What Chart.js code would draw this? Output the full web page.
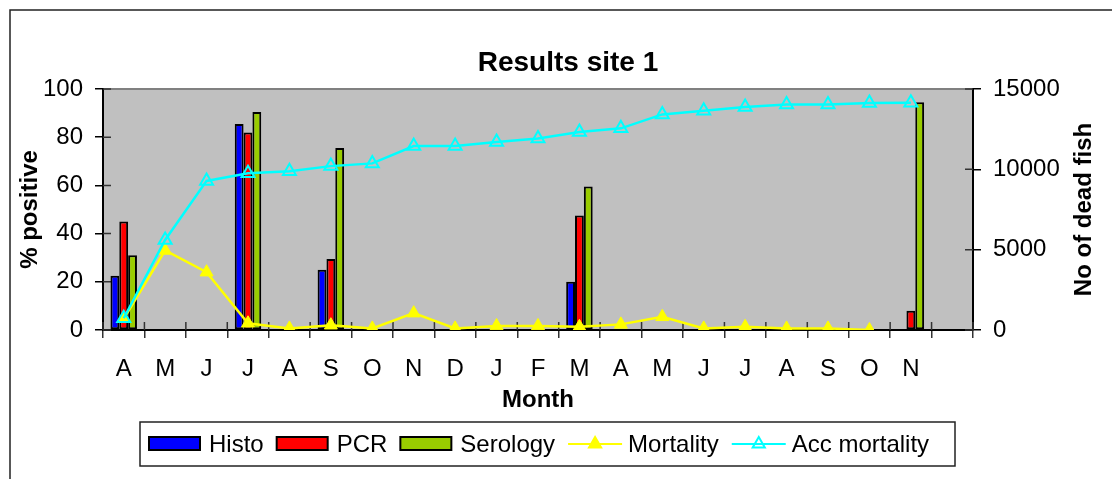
<!DOCTYPE html>
<html lang="en">
<head>
  <meta charset="UTF-8" />
  <title>Results site 1</title>
  <script src="https://cdn.jsdelivr.net/npm/chart.js"></script>
  <style>
    html, body {
      margin: 0;
      padding: 0;
      background: #fff;
      overflow: hidden;
    }
    #wrap {
      width: 1112px;
      height: 479px;
    }
  </style>
</head>
<body>
  <div id="wrap"><canvas id="grafica"></canvas></div>

  <script>
    // months, last slot is an empty category like in the excel chart
    const meses = ['A', 'M', 'J', 'J', 'A', 'S', 'O', 'N', 'D', 'J', 'F', 'M', 'A', 'M', 'J', 'J', 'A', 'S', 'O', 'N', ''];

    // % positive
    const histo    = [22.5, null, null, 85.5, null, 25, null, null, null, null, null, 20, null, null, null, null, null, null, null, null, null];
    const pcr      = [45, null, null, 82, null, 29.5, null, null, null, null, null, 47.5, null, null, null, null, null, null, null, 8, null];
    const serology = [31, null, null, 90.5, null, 75.5, null, null, null, null, null, 59.5, null, null, null, null, null, null, null, 94.5, null];

    // no of dead fish
    const mortality    = [700, 4950, 3600, 420, 100, 300, 100, 1050, 100, 250, 250, 200, 350, 820, 100, 200, 100, 100, 0, null, null];
    const accMortality = [730, 5600, 9280, 9750, 9880, 10200, 10370, 11450, 11450, 11700, 11920, 12330, 12550, 13420, 13640, 13880, 14040, 14040, 14130, 14140, null];

    const ticksPct  = [0, 20, 40, 60, 80, 100];
    const ticksFish = [0, 5000, 10000, 15000];

    const fuente = "Arial, 'Liberation Sans', sans-serif";

    // fondo, marco y area gris del grafico
    const fondoPlugin = {
      id: 'fondo',
      beforeDraw(chart) {
        const ctx = chart.ctx;
        const a = chart.chartArea;
        ctx.save();
        ctx.fillStyle = '#fff';
        ctx.fillRect(0, 0, chart.width, chart.height);
        ctx.strokeStyle = '#222';
        ctx.lineWidth = 1.5;
        ctx.beginPath();
        ctx.moveTo(10, chart.height + 5);
        ctx.lineTo(10, 10);
        ctx.lineTo(chart.width + 5, 10);
        ctx.stroke();
        ctx.fillStyle = '#c0c0c0';
        ctx.fillRect(a.left, a.top, a.right - a.left, a.bottom - a.top);
        ctx.strokeStyle = '#808080';
        ctx.lineWidth = 2;
        ctx.beginPath();
        ctx.moveTo(a.left, a.top);
        ctx.lineTo(a.right, a.top);
        ctx.stroke();
        ctx.restore();
      },
      beforeDatasetsDraw(chart) {
        // tick marks que cruzan el eje hacia dentro
        const ctx = chart.ctx;
        const a = chart.chartArea;
        const sx = chart.scales.x, sy = chart.scales.y, sy1 = chart.scales.y1;
        ctx.save();
        ctx.strokeStyle = '#333';
        ctx.lineWidth = 1.5;
        ctx.beginPath();
        for (let i = 0; i <= meses.length; i++) {
          const px = sx.getPixelForValue(i - 0.5);
          ctx.moveTo(px, a.bottom);
          ctx.lineTo(px, a.bottom - 8);
        }
        sy.ticks.forEach(t => {
          const py = sy.getPixelForValue(t.value);
          ctx.moveTo(a.left, py);
          ctx.lineTo(a.left + 8, py);
        });
        sy1.ticks.forEach(t => {
          const py = sy1.getPixelForValue(t.value);
          ctx.moveTo(a.right, py);
          ctx.lineTo(a.right - 8, py);
        });
        ctx.stroke();
        ctx.restore();
      }
    };

    // titulos y leyenda al estilo excel
    const textosPlugin = {
      id: 'textos',
      afterDraw(chart) {
        const ctx = chart.ctx;
        const a = chart.chartArea;
        const midY = (a.top + a.bottom) / 2;
        ctx.save();
        ctx.fillStyle = '#000';
        ctx.textAlign = 'center';
        ctx.textBaseline = 'middle';

        ctx.font = 'bold 28px ' + fuente;
        ctx.fillText('Results site 1', 568, 63);

        ctx.font = 'bold 24px ' + fuente;
        ctx.fillText('Month', (a.left + a.right) / 2, 400);

        ctx.save();
        ctx.translate(30, midY);
        ctx.rotate(-Math.PI / 2);
        ctx.fillText('% positive', 0, 0);
        ctx.restore();

        ctx.save();
        ctx.translate(1084, midY);
        ctx.rotate(-Math.PI / 2);
        ctx.fillText('No of dead fish', 0, 0);
        ctx.restore();

        // leyenda
        ctx.strokeStyle = '#222';
        ctx.lineWidth = 1.5;
        ctx.strokeRect(140, 422, 815, 44);

        ctx.font = '24px ' + fuente;
        ctx.textAlign = 'left';
        const cy = 444;
        let x = 149;
        chart.data.datasets.forEach(ds => {
          if (ds.type === 'line') {
            ctx.strokeStyle = ds.borderColor;
            ctx.lineWidth = 2;
            ctx.beginPath();
            ctx.moveTo(x, cy);
            ctx.lineTo(x + 54, cy);
            ctx.stroke();
            ctx.fillStyle = ds.pointBackgroundColor;
            ctx.strokeStyle = ds.pointBorderColor;
            ctx.lineWidth = 2;
            ctx.beginPath();
            const r = 7;
            ctx.moveTo(x + 27, cy - r);
            ctx.lineTo(x + 27 + r * Math.sin(Math.PI * 2 / 3), cy - r * Math.cos(Math.PI * 2 / 3));
            ctx.lineTo(x + 27 + r * Math.sin(Math.PI * 4 / 3), cy - r * Math.cos(Math.PI * 4 / 3));
            ctx.closePath();
            ctx.fill();
            ctx.stroke();
          } else {
            ctx.fillStyle = ds.backgroundColor;
            ctx.fillRect(x, cy - 7, 51, 13);
            ctx.strokeStyle = '#000';
            ctx.lineWidth = 2;
            ctx.strokeRect(x, cy - 7, 51, 13);
          }
          x += 60;
          ctx.fillStyle = '#000';
          ctx.fillText(ds.label, x, cy + 1);
          x += ctx.measureText(ds.label).width + 13;
        });
        ctx.restore();
      }
    };

    function barra(label, datos, color) {
      return {
        type: 'bar',
        label: label,
        data: datos,
        backgroundColor: color,
        borderColor: '#000',
        borderWidth: 2,
        borderSkipped: false,
        yAxisID: 'y',
        order: 2,
        categoryPercentage: 0.64,
        barPercentage: 1
      };
    }

    new Chart(document.getElementById('grafica'), {
      data: {
        labels: meses,
        datasets: [
          barra('Histo', histo, '#0000ff'),
          barra('PCR', pcr, '#ff0000'),
          barra('Serology', serology, '#99cc00'),
          {
            type: 'line',
            label: 'Mortality',
            data: mortality,
            borderColor: '#ffff00',
            borderWidth: 2.5,
            pointStyle: 'triangle',
            pointRadius: 7.5,
            pointBackgroundColor: '#ffff00',
            pointBorderColor: '#ffff00',
            pointBorderWidth: 1,
            tension: 0,
            spanGaps: false,
            yAxisID: 'y1',
            order: 1
          },
          {
            type: 'line',
            label: 'Acc mortality',
            data: accMortality,
            borderColor: '#00ffff',
            borderWidth: 2.5,
            pointStyle: 'triangle',
            pointRadius: 7.5,
            pointBackgroundColor: 'rgba(0,0,0,0)',
            pointBorderColor: '#00ffff',
            pointBorderWidth: 2,
            tension: 0,
            yAxisID: 'y1',
            order: 0
          }
        ]
      },
      options: {
        responsive: true,
        maintainAspectRatio: false,
        animation: false,
        layout: { padding: { top: 89, left: 0, right: 0, bottom: 0 } },
        plugins: {
          legend: { display: false },
          title: { display: false },
          tooltip: { enabled: false }
        },
        scales: {
          x: {
            type: 'category',
            offset: true,
            grid: { offset: true, drawOnChartArea: false, drawTicks: true, tickLength: 8, color: '#333', lineWidth: 1.5 },
            border: { display: true, color: '#000', width: 2 },
            ticks: { color: '#000', font: { family: fuente, size: 24 }, padding: 17, maxRotation: 0, autoSkip: false },
            afterFit(s) { s.height = 149; }
          },
          y: {
            position: 'left',
            min: 0,
            max: 100,
            grid: { drawOnChartArea: false, drawTicks: true, tickLength: 8, color: '#000', lineWidth: 1.5 },
            border: { display: true, color: '#000', width: 2 },
            ticks: { color: '#000', font: { family: fuente, size: 24 }, padding: 12, stepSize: 20 },
            afterBuildTicks(s) { s.ticks = ticksPct.map(v => ({ value: v })); },
            afterFit(s) { s.width = 103; }
          },
          y1: {
            position: 'right',
            min: 0,
            max: 15000,
            grid: { drawOnChartArea: false, drawTicks: true, tickLength: 8, color: '#000', lineWidth: 1.5 },
            border: { display: true, color: '#000', width: 2 },
            ticks: { color: '#000', font: { family: fuente, size: 24 }, padding: 12, stepSize: 5000, callback: v => String(v) },
            afterBuildTicks(s) { s.ticks = ticksFish.map(v => ({ value: v })); },
            afterFit(s) { s.width = 139; }
          }
        }
      },
      plugins: [fondoPlugin, textosPlugin]
    });
  </script>
</body>
</html>
